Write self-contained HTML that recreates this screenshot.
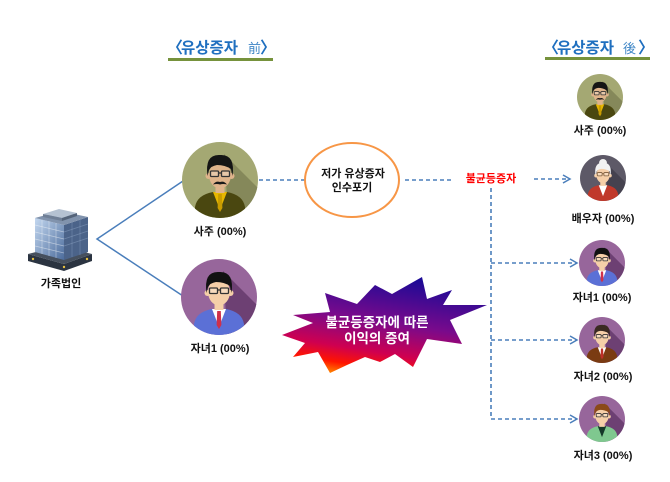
<!DOCTYPE html>
<html><head><meta charset="utf-8">
<style>
html,body{margin:0;padding:0;background:#fff;}
svg{display:block;}
text{font-family:"Liberation Sans","Noto Sans CJK KR",sans-serif;}
.lb{font-size:11px;font-weight:700;fill:#111;text-anchor:middle;}
</style></head>
<body>
<svg width="670" height="482" viewBox="0 0 670 482" xmlns="http://www.w3.org/2000/svg">
<defs>
  <clipPath id="cc"><circle cx="0" cy="0" r="38"/></clipPath>
  <linearGradient id="bg1" x1="0.62" y1="0" x2="0.28" y2="1">
    <stop offset="0" stop-color="#1a0a96"/>
    <stop offset="0.45" stop-color="#780a8c"/>
    <stop offset="0.75" stop-color="#cf0050"/>
    <stop offset="0.9" stop-color="#ff1400"/>
    <stop offset="1" stop-color="#ff7a00"/>
  </linearGradient>
  <linearGradient id="bf" x1="0" y1="0" x2="1" y2="1">
    <stop offset="0" stop-color="#c4d8f0"/>
    <stop offset="1" stop-color="#4c6c9c"/>
  </linearGradient>
  <g id="av">
    <circle r="38" style="fill:var(--bg)"/>
    <g clip-path="url(#cc)">
      <polygon points="4,-26 60,30 60,60 10,60" style="fill:var(--sh)"/>
      <path d="M-25,40 L-25,27 Q-23,15 -7,12 L7,12 Q23,15 25,27 L25,40 Z" style="fill:var(--suit)"/>
    </g>
    <path d="M-7,12 L0,30 L7,12 Z" style="fill:var(--shirt)"/>
    <path d="M-1.8,14 L1.8,14 L2.4,28 L0,32 L-2.4,28 Z" style="fill:var(--tie,none)"/>
    <rect x="-4.5" y="3" width="9" height="10" style="fill:var(--skin)"/>
    <circle cx="-11.5" cy="-4" r="3" style="fill:var(--skin)"/>
    <circle cx="11.5" cy="-4" r="3" style="fill:var(--skin)"/>
    <ellipse cx="0" cy="-5" rx="11" ry="13.5" style="fill:var(--skin)"/>
    <circle cx="0" cy="-25" r="6.5" style="fill:var(--bun,none)"/>
    <path d="M-12.5,-4 Q-15.5,-26 0,-25 Q15.5,-26 12.5,-4 L11,-11 Q5,-15 -3,-15 Q-9,-14 -11,-10 Z" style="fill:var(--hair)"/>
    <g style="fill:rgba(255,255,255,.25);stroke:var(--gl,#333)" stroke-width="1.3">
      <rect x="-9.5" y="-9" width="8" height="5.5" rx="1"/>
      <rect x="1.5" y="-9" width="8" height="5.5" rx="1"/>
      <line x1="-1.5" y1="-7" x2="1.5" y2="-7"/>
    </g>
    <path d="M-7,4.5 Q-4,0.5 0,2 Q4,0.5 7,4.5 Q3,3.5 0,4.5 Q-3,3.5 -7,4.5 Z" style="fill:var(--must,none)"/>
  </g>
  <marker id="ah" markerWidth="10" markerHeight="10" refX="8" refY="5" orient="auto" markerUnits="userSpaceOnUse">
    <path d="M1,1 L8,5 L1,9" fill="none" stroke="#4a7ebb" stroke-width="1.5"/>
  </marker>
</defs>

<!-- titles -->
<text x="183" y="53" font-size="16" font-weight="700" fill="#1f6fbf" text-anchor="end">〈</text>
<text x="181" y="53" font-size="15.5" font-weight="700" fill="#1f6fbf">유상증자</text>
<text x="248" y="53" font-size="13" fill="#3d85c6">前</text>
<text x="260" y="53" font-size="16" font-weight="700" fill="#1f6fbf">〉</text>
<rect x="168" y="58" width="105" height="3" fill="#76923c"/>

<text x="559" y="53" font-size="16" font-weight="700" fill="#1f6fbf" text-anchor="end">〈</text>
<text x="557" y="53" font-size="15.5" font-weight="700" fill="#1f6fbf">유상증자</text>
<text x="623" y="53" font-size="13" fill="#3d85c6">後</text>
<text x="638" y="53" font-size="16" font-weight="700" fill="#1f6fbf">〉</text>
<rect x="545" y="57" width="105" height="3" fill="#76923c"/>

<!-- solid connectors -->
<polyline points="183,181 97,239 183,296" fill="none" stroke="#4a7ebb" stroke-width="1.5"/>

<!-- dashed connectors -->
<g stroke="#4a7ebb" stroke-width="1.6" stroke-dasharray="4,3" fill="none">
  <line x1="259" y1="180" x2="305" y2="180"/>
  <line x1="405" y1="180" x2="451" y2="180"/>
  <line x1="534" y1="179" x2="570" y2="179" marker-end="url(#ah)"/>
  <line x1="491" y1="188" x2="491" y2="419"/>
  <line x1="491" y1="263" x2="577" y2="263" marker-end="url(#ah)"/>
  <line x1="491" y1="340" x2="577" y2="340" marker-end="url(#ah)"/>
  <line x1="491" y1="419" x2="577" y2="419" marker-end="url(#ah)"/>
</g>

<!-- building -->
<g>
  <polygon points="28,254 64,264 92,254 92,261 64,271 28,261" fill="#2b3441"/>
  <polygon points="28,254 60,246 92,254 64,264" fill="#46505e"/>
  <polygon points="35,218 64,225 64,260 35,252" fill="url(#bf)"/>
  <polygon points="64,225 88,217 88,252 64,260" fill="#4b6389"/>
  <polygon points="35,218 60,211 88,217 64,225" fill="#8193ad"/>
  <polygon points="43,214 59,209 77,213 62,218" fill="#b5c2d2"/>
  <polygon points="43,214 62,218 62,221 43,217" fill="#6f7f96"/>
  <polygon points="62,218 77,213 77,216 62,221" fill="#55647a"/>
  <g stroke="#ffffff" stroke-opacity=".45" stroke-width=".7">
    <line x1="42" y1="220" x2="42" y2="254"/>
    <line x1="49" y1="221" x2="49" y2="256"/>
    <line x1="56" y1="223" x2="56" y2="258"/>
    <line x1="35" y1="225" x2="64" y2="232"/>
    <line x1="35" y1="232" x2="64" y2="239"/>
    <line x1="35" y1="239" x2="64" y2="246"/>
    <line x1="35" y1="246" x2="64" y2="253"/>
  </g>
  <g stroke="#8fa5c5" stroke-opacity=".5" stroke-width=".7">
    <line x1="72" y1="222" x2="72" y2="257"/>
    <line x1="80" y1="220" x2="80" y2="255"/>
    <line x1="64" y1="232" x2="88" y2="224"/>
    <line x1="64" y1="239" x2="88" y2="231"/>
    <line x1="64" y1="246" x2="88" y2="238"/>
  </g>
  <circle cx="33" cy="259" r="1.2" fill="#e8c040"/>
  <circle cx="87" cy="259" r="1.2" fill="#e8c040"/>
  <circle cx="64" cy="267" r="1.2" fill="#e8c040"/>
</g>
<text class="lb" x="61" y="287">가족법인</text>

<!-- left avatars -->
<use href="#av" transform="translate(220,180)" style="--bg:#a4a873;--sh:#85885a;--suit:#4a4710;--shirt:#e8b800;--tie:#c99c00;--skin:#dfb48b;--hair:#151515;--must:#1a1a1a"/>
<text class="lb" x="220" y="235">사주 (00%)</text>
<use href="#av" transform="translate(219,297)" style="--bg:#97669b;--sh:#6d4073;--suit:#5b70d6;--shirt:#ffffff;--tie:#d0304a;--skin:#f5cfa8;--hair:#111111"/>
<text class="lb" x="220" y="352">자녀1 (00%)</text>

<!-- ellipse -->
<ellipse cx="352" cy="180" rx="47" ry="37" fill="#fff" stroke="#f79646" stroke-width="2"/>
<text class="lb" x="353" y="177">저가 유상증자</text>
<text class="lb" x="352" y="191">인수포기</text>

<!-- red label -->
<text x="491" y="182" font-size="11" font-weight="700" fill="#ff0000" text-anchor="middle">불균등증자</text>

<!-- burst -->
<polygon points="325,293 357,304 375,285 392,294 422,277 427,299 452,290 443,305 487,305 450,320 462,344 427,339 413,367 395,354 380,362 365,357 347,365 330,373 318,352 293,357 305,343 282,335 313,323 293,315 330,312" fill="url(#bg1)"/>
<text x="377" y="327" font-size="13.5" font-weight="700" fill="#fff" text-anchor="middle">불균등증자에 따른</text>
<text x="377" y="343" font-size="13.5" font-weight="700" fill="#fff" text-anchor="middle">이익의 증여</text>

<!-- right avatars -->
<use href="#av" transform="translate(600,97) scale(0.605)" style="--bg:#a4a873;--sh:#85885a;--suit:#4a4710;--shirt:#e8b800;--tie:#c99c00;--skin:#dfb48b;--hair:#151515;--must:#1a1a1a"/>
<text class="lb" x="600" y="134">사주 (00%)</text>
<use href="#av" transform="translate(603,178) scale(0.605)" style="--bg:#5d5967;--sh:#45424f;--suit:#c0392b;--shirt:#ffffff;--skin:#f5cfa8;--hair:#f2f2f2;--bun:#f2f2f2;--gl:#7a5a3a"/>
<text class="lb" x="603" y="222">배우자 (00%)</text>
<use href="#av" transform="translate(602,263) scale(0.605)" style="--bg:#97669b;--sh:#6d4073;--suit:#5b70d6;--shirt:#ffffff;--tie:#d0304a;--skin:#f5cfa8;--hair:#111111"/>
<text class="lb" x="602" y="301">자녀1 (00%)</text>
<use href="#av" transform="translate(602,340) scale(0.605)" style="--bg:#97669b;--sh:#6d4073;--suit:#7a3b12;--shirt:#ffffff;--tie:#c0302a;--skin:#f5cfa8;--hair:#3a2a22"/>
<text class="lb" x="603" y="380">자녀2 (00%)</text>
<use href="#av" transform="translate(602,419) scale(0.605)" style="--bg:#97669b;--sh:#6d4073;--suit:#7fc88f;--shirt:#143828;--skin:#f5cfa8;--hair:#8b4a1a"/>
<text class="lb" x="603" y="459">자녀3 (00%)</text>
</svg>
</body></html>
